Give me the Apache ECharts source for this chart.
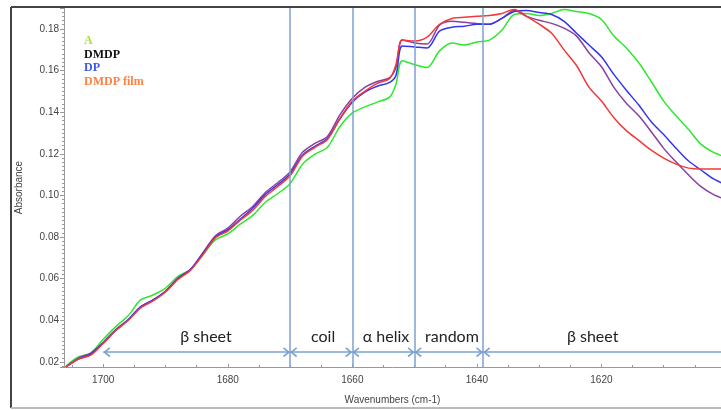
<!DOCTYPE html>
<html>
<head>
<meta charset="utf-8">
<script src="https://cdn.jsdelivr.net/npm/echarts@6/dist/echarts.min.js"></script>
<style>
html, body { margin: 0; padding: 0; background: #fff; }
#chart { width: 721px; height: 410px; }
</style>
</head>
<body>
<div id="chart"></div>
<script>
// wavenumbers (cm-1)
var wavenumbers = [1706, 1704, 1702, 1700, 1698, 1696, 1694, 1692, 1690, 1688, 1686, 1684, 1682, 1680,
    1678, 1676, 1674, 1672, 1670, 1668, 1666, 1664, 1662, 1660, 1658, 1656, 1654, 1653, 1652, 1650,
    1648, 1646, 1644, 1642, 1640, 1638, 1636, 1634, 1632, 1630, 1628, 1626, 1624, 1622, 1620, 1618,
    1616, 1614, 1612, 1610, 1608, 1606, 1604, 1602, 1600];

var absA = [0.0181, 0.0224, 0.0243, 0.0309, 0.0370, 0.0422, 0.0498, 0.0522, 0.0555, 0.0611, 0.0644, 0.0715, 0.0786, 0.0815,
    0.0862, 0.0904, 0.0966, 0.1008, 0.1056, 0.1150, 0.1198, 0.1231, 0.1330, 0.1396, 0.1425, 0.1448, 0.1472, 0.1533, 0.1647, 0.1628,
    0.1614, 0.1694, 0.1732, 0.1722, 0.1737, 0.1746, 0.1793, 0.1869, 0.1874, 0.1864, 0.1874, 0.1893, 0.1883, 0.1874, 0.1845, 0.1765,
    0.1708, 0.1637, 0.1547, 0.1453, 0.1382, 0.1316, 0.1245, 0.1207, 0.1183];

var absDMDP = [0.0176, 0.0219, 0.0243, 0.0295, 0.0356, 0.0403, 0.0465, 0.0498, 0.0540, 0.0602, 0.0644, 0.0725, 0.0805, 0.0843,
    0.0900, 0.0947, 0.1013, 0.1061, 0.1113, 0.1207, 0.1250, 0.1283, 0.1387, 0.1467, 0.1519, 0.1547, 0.1566, 0.1614, 0.1746, 0.1732,
    0.1727, 0.1817, 0.1836, 0.1831, 0.1826, 0.1822, 0.1850, 0.1888, 0.1860, 0.1841, 0.1826, 0.1803, 0.1765, 0.1685, 0.1618, 0.1519,
    0.1443, 0.1382, 0.1306, 0.1226, 0.1160, 0.1098, 0.1042, 0.1004, 0.0980];

var absDP = [0.0176, 0.0214, 0.0238, 0.0290, 0.0351, 0.0403, 0.0465, 0.0498, 0.0540, 0.0602, 0.0644, 0.0720, 0.0800, 0.0834,
    0.0886, 0.0938, 0.1004, 0.1051, 0.1103, 0.1193, 0.1236, 0.1273, 0.1368, 0.1448, 0.1496, 0.1524, 0.1543, 0.1576, 0.1718, 0.1713,
    0.1708, 0.1789, 0.1808, 0.1812, 0.1822, 0.1822, 0.1850, 0.1883, 0.1888, 0.1878, 0.1869, 0.1836, 0.1779, 0.1722, 0.1666, 0.1581,
    0.1505, 0.1434, 0.1354, 0.1292, 0.1226, 0.1165, 0.1122, 0.1079, 0.1051];

var absDMDPfilm = [0.0176, 0.0214, 0.0233, 0.0290, 0.0351, 0.0399, 0.0460, 0.0493, 0.0536, 0.0597, 0.0640, 0.0715, 0.0796, 0.0829,
    0.0881, 0.0928, 0.0994, 0.1042, 0.1094, 0.1188, 0.1231, 0.1269, 0.1368, 0.1453, 0.1500, 0.1538, 0.1562, 0.1628, 0.1746, 0.1741,
    0.1760, 0.1822, 0.1850, 0.1855, 0.1860, 0.1864, 0.1874, 0.1893, 0.1860, 0.1822, 0.1779, 0.1699, 0.1624, 0.1520, 0.1453, 0.1373,
    0.1311, 0.1264, 0.1217, 0.1179, 0.1150, 0.1131, 0.1127, 0.1127, 0.1127];

// band boundaries and names
var bandEdges = [1700, 1670, 1660, 1650, 1639];
var bandNames = ['β sheet', 'coil', 'α helix', 'random', 'β sheet'];
var bandLabelPos = [1683.5, 1664.7, 1654.6, 1644, 1621.4];
var arrowLevel = 0.0247;
var labelLevel = 0.0316;

var xMin = 1600.8, xMax = 1706.3;
var yMin = 0.0176, yMax = 0.19;

function pairs(vals) {
    return wavenumbers.map(function (w, i) { return [w, vals[i]]; });
}

var chevron = 'path://M5,0L10,7L8.6,8L5,3L1.4,8L0,7Z';

var markLines = bandEdges.slice(1).map(function (e) { return { xAxis: e }; });
for (var i = 0; i < bandEdges.length; i++) {
    var end = i + 1 < bandEdges.length ? bandEdges[i + 1] : xMin;
    markLines.push([
        { coord: [bandEdges[i], arrowLevel], symbol: chevron },
        { coord: [end, arrowLevel], symbol: i + 1 < bandEdges.length ? chevron : 'none' }
    ]);
}

var markPoints = bandNames.map(function (n, i) {
    return { name: n, coord: [bandLabelPos[i], labelLevel] };
});

var myChart = echarts.init(document.getElementById('chart'));
var axisFont = { fontFamily: 'Liberation Sans', fontSize: 10, color: '#444' };

option = {
    animation: false,
    grid: { left: 64, right: 0, top: 8, bottom: 38 },
    legend: {
        orient: 'vertical',
        left: 74,
        top: 29,
        icon: 'none',
        itemWidth: 0,
        itemHeight: 14,
        itemGap: 0.5,
        selectedMode: false,
        textStyle: { fontFamily: 'Liberation Serif', fontWeight: 'bold', fontSize: 12 },
        data: [
            { name: 'A', textStyle: { color: '#a6e03a' } },
            { name: 'DMDP', textStyle: { color: '#111111' } },
            { name: 'DP', textStyle: { color: '#3b55ee' } },
            { name: 'DMDP film', textStyle: { color: '#ff8040' } }
        ]
    },
    xAxis: {
        type: 'value',
        inverse: true,
        min: xMin,
        max: xMax,
        minInterval: 20,
        maxInterval: 20,
        name: 'Wavenumbers (cm-1)',
        nameLocation: 'middle',
        nameGap: 28,
        nameTextStyle: axisFont,
        axisLine: { lineStyle: { color: '#999' } },
        axisTick: { inside: true, length: 3, lineStyle: { color: '#999' } },
        minorTick: { show: true, splitNumber: 4, length: 2, lineStyle: { color: '#999' } },
        axisLabel: Object.assign({
            showMinLabel: false, showMaxLabel: false, margin: 8,
            formatter: function (v) { return String(Math.round(v)); }
        }, axisFont),
        splitLine: { show: false }
    },
    yAxis: {
        type: 'value',
        min: yMin,
        max: yMax,
        minInterval: 0.02,
        maxInterval: 0.02,
        name: 'Absorbance',
        nameLocation: 'middle',
        nameGap: 40,
        nameTextStyle: axisFont,
        axisLine: { show: true, lineStyle: { color: '#999' } },
        axisTick: { show: true, length: 4, lineStyle: { color: '#999' } },
        minorTick: { show: true, splitNumber: 10, length: 2, lineStyle: { color: '#999' } },
        axisLabel: Object.assign({
            showMinLabel: false, showMaxLabel: false, margin: 5,
            formatter: function (v) { return v.toFixed(2); }
        }, axisFont),
        splitLine: { show: false }
    },
    graphic: [
        { type: 'line', shape: { x1: 11, y1: 7, x2: 721, y2: 7 }, style: { stroke: '#444', lineWidth: 2 }, z: 100 },
        { type: 'line', shape: { x1: 11, y1: 7, x2: 11, y2: 408 }, style: { stroke: '#444', lineWidth: 2 }, z: 100 },
        { type: 'line', shape: { x1: 11, y1: 408, x2: 721, y2: 408 }, style: { stroke: '#bbb', lineWidth: 2 }, z: 100 }
    ],
    series: [
        { name: 'A', type: 'line', data: pairs(absA), smooth: 0.3, showSymbol: false,
          lineStyle: { color: '#2ee82e', width: 1.5 }, itemStyle: { color: '#2ee82e' } },
        { name: 'DMDP', type: 'line', data: pairs(absDMDP), smooth: 0.3, showSymbol: false,
          lineStyle: { color: '#8a3fa3', width: 1.5 }, itemStyle: { color: '#8a3fa3' } },
        { name: 'DP', type: 'line', data: pairs(absDP), smooth: 0.3, showSymbol: false,
          lineStyle: { color: '#3535f0', width: 1.5 }, itemStyle: { color: '#3535f0' } },
        { name: 'DMDP film', type: 'line', data: pairs(absDMDPfilm), smooth: 0.3, showSymbol: false,
          lineStyle: { color: '#f23838', width: 1.5 }, itemStyle: { color: '#f23838' } },
        {
            name: 'bands',
            type: 'line',
            data: [],
            markLine: {
                silent: true,
                symbol: 'none',
                symbolSize: [10, 7],
                symbolOffset: [[0, 3.5], [0, 3.5]],
                label: { show: false },
                lineStyle: { color: '#7ba0d2', width: 1.5, type: 'solid' },
                data: markLines
            },
            markPoint: {
                silent: true,
                symbolSize: 1,
                itemStyle: { color: 'rgba(0,0,0,0)' },
                label: {
                    show: true,
                    position: 'inside',
                    formatter: '{b}',
                    fontFamily: 'Lato',
                    fontSize: 16,
                    color: '#222'
                },
                data: markPoints
            }
        }
    ]
};
myChart.setOption(option);
</script>
</body>
</html>
